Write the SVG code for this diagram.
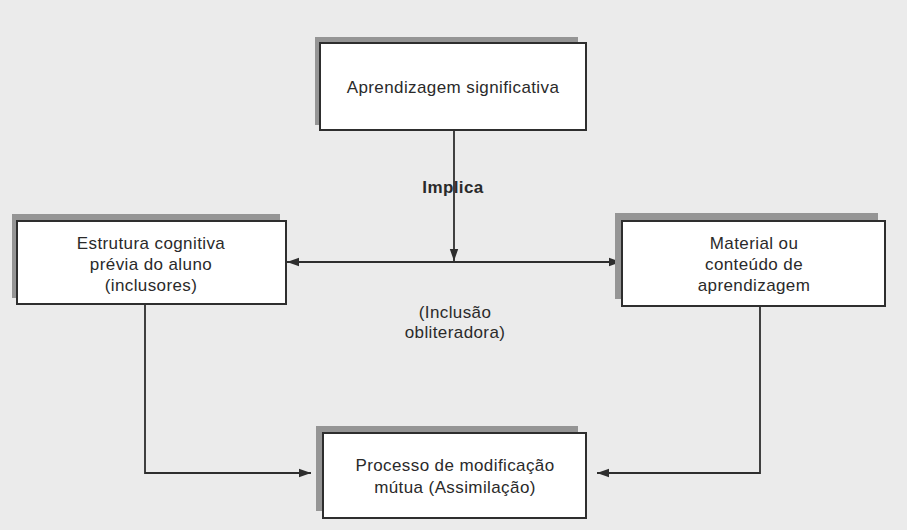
<svg xmlns="http://www.w3.org/2000/svg" width="907" height="530" viewBox="0 0 907 530">
<defs>
<style>
.bg{fill:#ebebeb}
.shadow{fill:#959595}
.box{fill:#ffffff;stroke:#2e2e2e;stroke-width:2}
.t{font-family:"Liberation Sans",Arial,sans-serif;font-size:17px;letter-spacing:0.4px;fill:#2a2a2a;text-anchor:middle}
.b{font-weight:bold}
.c{fill:none;stroke:#2e2e2e;stroke-width:1.8}
</style>
<marker id="ah" viewBox="0 0 10 10" refX="10" refY="5" markerWidth="12" markerHeight="12" markerUnits="userSpaceOnUse" orient="auto-start-reverse">
<path d="M0,1.5 L10,5 L0,8.5 z" fill="#2e2e2e"/>
</marker>
</defs>
<rect class="bg" x="0" y="0" width="907" height="530"/>
<g id="connectors">
<line class="c" x1="454" y1="130" x2="454" y2="261" marker-end="url(#ah)"/>
<line class="c" x1="287" y1="262" x2="621" y2="262" marker-start="url(#ah)" marker-end="url(#ah)"/>
<polyline class="c" points="145,304 145,473 311,473" marker-end="url(#ah)"/>
<polyline class="c" points="760,306 760,473 597,473" marker-end="url(#ah)"/>
</g>
<g id="n1">
<rect class="shadow" x="315" y="37" width="263" height="88"/>
<rect class="box" x="320" y="43" width="266" height="87"/>
<text class="t" x="453" y="93">Aprendizagem significativa</text>
</g>
<g id="n2">
<rect class="shadow" x="12" y="214" width="268" height="84"/>
<rect class="box" x="17" y="221" width="269" height="83"/>
<text class="t" x="151" y="249">Estrutura cognitiva</text>
<text class="t" x="151" y="270">prévia do aluno</text>
<text class="t" x="151" y="291">(inclusores)</text>
</g>
<g id="n3">
<rect class="shadow" x="615" y="213" width="263" height="86"/>
<rect class="box" x="622" y="221" width="263" height="85"/>
<text class="t" x="754" y="249">Material ou</text>
<text class="t" x="754" y="270">conteúdo de</text>
<text class="t" x="754" y="291">aprendizagem</text>
</g>
<g id="n4">
<rect class="shadow" x="316" y="426" width="262" height="85"/>
<rect class="box" x="323" y="433" width="263" height="85"/>
<text class="t" x="455" y="471">Processo de modificação</text>
<text class="t" x="455" y="493">mútua (Assimilação)</text>
</g>
<text class="t b" x="453" y="193">Implica</text>
<text class="t" x="455" y="318">(Inclusão</text>
<text class="t" x="455" y="338">obliteradora)</text>
</svg>
